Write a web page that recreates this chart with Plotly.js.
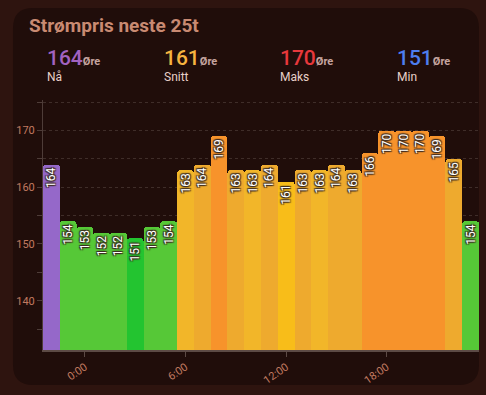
<!DOCTYPE html>
<html><head><meta charset="utf-8">
<script src="https://cdn.plot.ly/plotly-3.0.1.min.js"></script>
<style>html,body{margin:0;padding:0;background:#2e140f;overflow:hidden}</style>
</head><body><div id="chart" style="width:486px;height:395px"></div>
<script>
// ---- data ----
const times = [
  '2024-01-01 22:00','2024-01-01 23:00',
  '2024-01-02 00:00','2024-01-02 01:00','2024-01-02 02:00','2024-01-02 03:00',
  '2024-01-02 04:00','2024-01-02 05:00','2024-01-02 06:00','2024-01-02 07:00',
  '2024-01-02 08:00','2024-01-02 09:00','2024-01-02 10:00','2024-01-02 11:00',
  '2024-01-02 12:00','2024-01-02 13:00','2024-01-02 14:00','2024-01-02 15:00',
  '2024-01-02 16:00','2024-01-02 17:00','2024-01-02 18:00','2024-01-02 19:00',
  '2024-01-02 20:00','2024-01-02 21:00','2024-01-02 22:00','2024-01-02 23:00'
];
const prices = [164,154,153,152,152,151,153,154,163,164,169,163,163,164,161,163,163,164,163,166,170,170,170,169,165,154];
const tickVals = ['2024-01-02 00:00','2024-01-02 06:00','2024-01-02 12:00','2024-01-02 18:00'];
const tickText = ['0:00','6:00','12:00','18:00'];
const statValues = [164,161,170,151];
const statLabels = ['Nå','Snitt','Maks','Min'];
const unit = 'Øre';
const titleText = 'Strømpris neste 25t';

// ---- styles ----
const P='#9568c9', G='#56c837', DG='#23c430', Y='#f2b629', A='#eeaa2e', O='#f7932b', BY='#f8bd19';
const barColors = [P,G,G,G,G,DG,G,G,Y,A,O,A,Y,A,BY,A,Y,A,A,O,O,O,O,O,A,G];
const statColors = ['#a262c0','#f7b440','#e8383c','#4d7ef0'];

const L=43, R=479, T=100, B=350;
const px = p => (p-L)/(R-L);
const py = p => (B-p)/(B-T);

function roundRect(x0,y0,x1,y1,r){
  const pts = [
    ['M',x0+r,y0],['L',x1-r,y0],['Q',x1,y0,x1,y0+r],['L',x1,y1-r],['Q',x1,y1,x1-r,y1],
    ['L',x0+r,y1],['Q',x0,y1,x0,y1-r],['L',x0,y0+r],['Q',x0,y0,x0+r,y0]
  ];
  return pts.map(s=>{
    let out=s[0];
    for(let i=1;i<s.length;i+=2){ out+=' '+px(s[i]).toFixed(5)+','+py(s[i+1]).toFixed(5); }
    return out;
  }).join(' ')+' Z';
}

const annotations = [{
  xref:'paper', yref:'paper', x:px(27), y:py(26), xanchor:'left', yanchor:'middle',
  text:'<b>'+titleText+'</b>', showarrow:false,
  font:{family:'Roboto', size:19, color:'#c98a72'}
}];
statValues.forEach((v,i)=>{
  const x0 = 45 + i*116.7;
  annotations.push({
    xref:'paper', yref:'paper', x:px(x0), y:py(72), xanchor:'left', yanchor:'bottom',
    text:'<span style="font-size:21px;font-weight:500;color:'+statColors[i]+'">'+v+'</span><span style="font-size:11px;font-weight:bold;color:#c6a5a0">'+unit+'</span>',
    showarrow:false, font:{family:'Roboto', size:21, color:statColors[i]}
  });
  annotations.push({
    xref:'paper', yref:'paper', x:px(x0), y:py(77), xanchor:'left', yanchor:'middle',
    text:statLabels[i], showarrow:false, font:{family:'Roboto', size:12, color:'#e8d0c8'}
  });
});

const trace = {
  type:'bar', x:times, y:prices,
  marker:{color:barColors, cornerradius:3, line:{width:0}},
  text:prices.map(String), textposition:'inside', insidetextanchor:'end', textangle:-90,
  constraintext:'none', cliponaxis:true,
  textfont:{family:'Roboto', size:12, color:'#ffffff',
    shadow:'1px 1px 1px #3a2a20, -1px -1px 1px #3a2a20, 1px -1px 1px #3a2a20, -1px 1px 1px #3a2a20'},
  hoverinfo:'skip'
};

const gridC = '#3f2d29';
const layout = {
  width:486, height:395,
  margin:{l:L, r:486-R, t:T, b:395-B},
  paper_bgcolor:'#2e140f', plot_bgcolor:'rgba(0,0,0,0)',
  bargap:0, showlegend:false, hovermode:false,
  font:{family:'Roboto'},
  xaxis:{type:'date', range:['2024-01-01 21:30','2024-01-02 23:30'],
    tickvals:tickVals, ticktext:tickText, tickangle:-35,
    tickfont:{family:'Roboto', size:11, color:'#c07a60'},
    ticks:'outside', ticklen:5, tickcolor:'#5c4a45', showline:true, linecolor:'#5c4a45', linewidth:1.5,
    showgrid:false, zeroline:false, fixedrange:true},
  yaxis:{range:[131.3,175.4], tick0:0, dtick:10,
    tickfont:{family:'Roboto', size:11, color:'#c07a60'},
    ticks:'outside', ticklen:5, tickcolor:'#4e3c38',
    showline:true, linecolor:'#4e3c38', linewidth:1,
    showgrid:true, gridcolor:gridC, griddash:'3px,3px', gridwidth:1, zeroline:false,
    minor:{dtick:5, tick0:0, showgrid:true, gridcolor:gridC, griddash:'3px,3px', ticks:'outside', ticklen:5, tickcolor:'#4e3c38'},
    fixedrange:true},
  shapes:[{type:'path', xref:'paper', yref:'paper', layer:'below',
    path:roundRect(13,8,479,385,20), fillcolor:'#200d0a', line:{width:0}}],
  annotations:annotations
};

Plotly.newPlot('chart',[trace],layout,{displayModeBar:false, staticPlot:true});
</script></body></html>
